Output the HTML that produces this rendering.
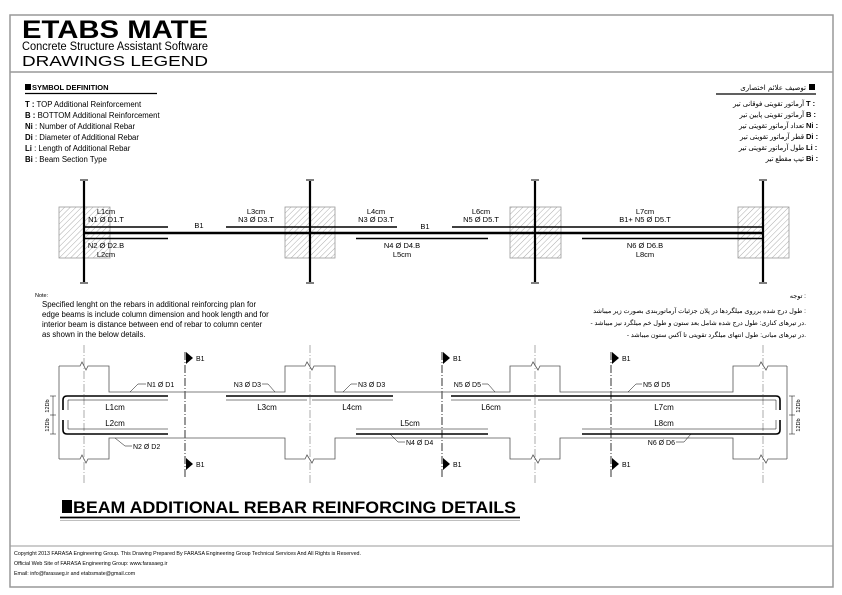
<!DOCTYPE html>
<html><head><meta charset="utf-8"><style>
html,body{margin:0;padding:0;background:#fff}
svg{display:block}
text{font-family:"Liberation Sans",Arial,sans-serif;fill:#000}
.fa{font-family:"DejaVu Sans","Liberation Sans",sans-serif}
</style></head><body>
<svg width="842" height="595" viewBox="0 0 842 595" xmlns="http://www.w3.org/2000/svg">
<defs>
<pattern id="h" width="4" height="4" patternUnits="userSpaceOnUse" patternTransform="rotate(45)">
<line x1="0" y1="0" x2="0" y2="4" stroke="#999" stroke-width="0.8"/></pattern>
</defs>
<rect x="10" y="15" width="823" height="572" fill="none" stroke="#999" stroke-width="1.5"/>
<line x1="10" y1="72" x2="833" y2="72" stroke="#999" stroke-width="1.5"/>
<line x1="10" y1="546" x2="833" y2="546" stroke="#999" stroke-width="1"/>
<text x="22" y="38" font-size="25" font-weight="bold" textLength="186" lengthAdjust="spacingAndGlyphs">ETABS MATE</text>
<text x="22" y="50" font-size="11.5" textLength="186" lengthAdjust="spacingAndGlyphs">Concrete Structure Assistant Software</text>
<text x="22" y="66" font-size="14.5" textLength="186" lengthAdjust="spacingAndGlyphs">DRAWINGS LEGEND</text>
<rect x="25" y="84" width="6" height="6" fill="#000"/>
<text x="32" y="90" font-size="7.5" font-weight="bold">SYMBOL  DEFINITION</text>
<line x1="25" y1="93.5" x2="157" y2="93.5" stroke="#000" stroke-width="1.2"/>
<g font-size="7.8">
<text x="25" y="107"><tspan font-weight="bold">T  :</tspan> TOP Additional Reinforcement</text>
<text x="25" y="118"><tspan font-weight="bold">B  :</tspan> BOTTOM Additional Reinforcement</text>
<text x="25" y="129"><tspan font-weight="bold">Ni</tspan> : Number of Additional Rebar</text>
<text x="25" y="140"><tspan font-weight="bold">Di</tspan> : Diameter of Additional Rebar</text>
<text x="25" y="151"><tspan font-weight="bold">Li</tspan> : Length of Additional Rebar</text>
<text x="25" y="162"><tspan font-weight="bold">Bi</tspan> : Beam Section Type</text>
</g>
<rect x="809" y="84" width="6" height="6" fill="#000"/>
<text x="806" y="90" font-size="7" text-anchor="end" class="fa">توصیف علائم اختصاری</text>
<line x1="716" y1="94" x2="816" y2="94" stroke="#000" stroke-width="1.2"/>
<g font-size="6.8" class="fa" text-anchor="end">
<text x="804" y="106">آرماتور تقویتی فوقانی تیر</text>
<text x="804" y="117">آرماتور تقویتی پایین تیر</text>
<text x="804" y="128">تعداد آرماتور تقویتی تیر</text>
<text x="804" y="139">قطر آرماتور تقویتی تیر</text>
<text x="804" y="150">طول آرماتور تقویتی تیر</text>
<text x="804" y="161">تیپ مقطع تیر</text>
</g>
<g font-size="7.5" font-weight="bold">
<text x="806" y="106">T :</text><text x="806" y="117">B :</text><text x="806" y="128">Ni :</text>
<text x="806" y="139">Di :</text><text x="806" y="150">Li :</text><text x="806" y="161">Bi :</text>
</g>
<g stroke="#999" stroke-width="0.8" fill="url(#h)">
<rect x="59" y="207" width="51" height="51"/>
<rect x="285" y="207" width="50" height="51"/>
<rect x="510" y="207" width="51" height="51"/>
<rect x="738" y="207" width="51" height="51"/>
</g>
<g stroke="#000" stroke-width="2.2">
<line x1="84" y1="181" x2="84" y2="282"/>
<line x1="310" y1="181" x2="310" y2="282"/>
<line x1="535" y1="181" x2="535" y2="282"/>
<line x1="763" y1="181" x2="763" y2="282"/>
</g>
<g stroke="#000" stroke-width="1">
<line x1="80" y1="180" x2="88" y2="180"/><line x1="306" y1="180" x2="314" y2="180"/>
<line x1="531" y1="180" x2="539" y2="180"/><line x1="759" y1="180" x2="767" y2="180"/>
<line x1="80" y1="283" x2="88" y2="283"/><line x1="306" y1="283" x2="314" y2="283"/>
<line x1="531" y1="283" x2="539" y2="283"/><line x1="759" y1="283" x2="767" y2="283"/>
</g>
<line x1="84" y1="233" x2="763" y2="233" stroke="#000" stroke-width="2.4"/>
<g stroke="#000" stroke-width="1.6">
<line x1="84" y1="227" x2="168" y2="227"/>
<line x1="226" y1="227" x2="397" y2="227"/>
<line x1="452" y1="227" x2="763" y2="227"/>
<line x1="84" y1="238.5" x2="168" y2="238.5"/>
<line x1="356" y1="238.5" x2="488" y2="238.5"/>
<line x1="582" y1="238.5" x2="763" y2="238.5"/>
</g>
<g font-size="7.5" text-anchor="middle">
<text x="106" y="214">L1cm</text><text x="106" y="222">N1 Ø D1.T</text>
<text x="199" y="228">B1</text>
<text x="256" y="214">L3cm</text><text x="256" y="222">N3 Ø D3.T</text>
<text x="376" y="214">L4cm</text><text x="376" y="222">N3 Ø D3.T</text>
<text x="425" y="229">B1</text>
<text x="481" y="214">L6cm</text><text x="481" y="222">N5 Ø D5.T</text>
<text x="645" y="214">L7cm</text><text x="645" y="222">B1+ N5 Ø D5.T</text>
<text x="106" y="248">N2 Ø D2.B</text><text x="106" y="257">L2cm</text>
<text x="402" y="248">N4 Ø D4.B</text><text x="402" y="257">L5cm</text>
<text x="645" y="248">N6 Ø D6.B</text><text x="645" y="257">L8cm</text>
</g>
<text x="35" y="297" font-size="5.5">Note:</text>
<g font-size="7.8">
<text x="42" y="307">Specified lenght on the rebars in additional reinforcing plan for</text>
<text x="42" y="317">edge beams is include column dimension and hook length and for</text>
<text x="42" y="327">interior beam is distance between end of rebar to column center</text>
<text x="42" y="337">as shown in the below details.</text>
</g>
<g font-size="6.5" class="fa" text-anchor="end">
<text x="806" y="298">توجه :</text>
<text x="806" y="313">طول درج شده برروی میلگردها در پلان جزئیات آرماتوربندی بصورت زیر میباشد :</text>
<text x="806" y="325">- در تیرهای کناری: طول درج شده شامل بعد ستون و طول خم میلگرد نیز میباشد.</text>
<text x="806" y="337">- در تیرهای میانی: طول انتهای میلگرد تقویتی تا آکس ستون میباشد.</text>
</g>
<g stroke="#888" stroke-width="0.7" stroke-dasharray="8,2,1,2" fill="none">
<line x1="84" y1="345" x2="84" y2="485"/><line x1="310" y1="345" x2="310" y2="485"/>
<line x1="535" y1="345" x2="535" y2="485"/><line x1="763" y1="345" x2="763" y2="485"/>
</g>
<g stroke="#000" stroke-width="0.8" stroke-dasharray="8,2,1,2" fill="none">
<line x1="185" y1="352" x2="185" y2="478"/><line x1="442" y1="352" x2="442" y2="478"/><line x1="611" y1="352" x2="611" y2="478"/>
</g>
<g fill="#000">
<polygon points="186,352 193,358 186,364"/><polygon points="186,458 193,464 186,470"/>
<polygon points="443,352 450,358 443,364"/><polygon points="443,458 450,464 443,470"/>
<polygon points="612,352 619,358 612,364"/><polygon points="612,458 619,464 612,470"/>
</g>
<g font-size="7"><text x="196" y="361">B1</text><text x="196" y="467">B1</text>
<text x="453" y="361">B1</text><text x="453" y="467">B1</text><text x="622" y="361">B1</text><text x="622" y="467">B1</text></g>
<g stroke="#555" stroke-width="0.8" fill="none">
<polyline points="59,366 80,366 82,362 86,370 88,366 109,366 109,392 285,392 285,366 305,366 307,362 312,370 314,366 335,366 335,392 510,392 510,366 531,366 533,362 538,370 540,366 560,366 560,392 733,392 733,366 759,366 761,362 766,370 768,366 787,366"/>
<polyline points="59,459 80,459 82,455 86,463 88,459 109,459 109,438 285,438 285,459 305,459 307,455 312,463 314,459 335,459 335,438 510,438 510,459 531,459 533,455 538,463 540,459 560,459 560,438 733,438 733,459 759,459 761,455 766,463 768,459 787,459"/>
<line x1="59" y1="366" x2="59" y2="459"/><line x1="787" y1="366" x2="787" y2="459"/>
</g>
<g stroke="#000" stroke-width="1.6" fill="none">
<path d="M168,396 H67 Q63,396 63,400 V410"/>
<path d="M168,434 H67 Q63,434 63,430 V420"/>
<line x1="226" y1="396" x2="393" y2="396"/>
<line x1="356" y1="434" x2="488" y2="434"/>
<path d="M451,396 H776 Q780,396 780,400 V410"/>
<path d="M582,434 H776 Q780,434 780,430 V420"/>
</g>
<g stroke="#000" stroke-width="0.5" fill="none">
<polyline points="68,410 68,400 168,400"/><polyline points="68,420 68,429 168,429"/>
<line x1="226" y1="400" x2="307" y2="400"/><line x1="312" y1="400" x2="393" y2="400"/>
<line x1="356" y1="429" x2="488" y2="429"/>
<line x1="451" y1="400" x2="531" y2="400"/><line x1="538" y1="400" x2="776" y2="400"/>
<polyline points="582,429 776,429 776,420"/><line x1="776" y1="400" x2="776" y2="410"/>
<line x1="53" y1="396" x2="53" y2="434"/><line x1="792" y1="396" x2="792" y2="434"/>
<line x1="50" y1="396" x2="56" y2="396"/><line x1="50" y1="415" x2="56" y2="415"/><line x1="50" y1="434" x2="56" y2="434"/>
<line x1="789" y1="396" x2="795" y2="396"/><line x1="789" y1="415" x2="795" y2="415"/><line x1="789" y1="434" x2="795" y2="434"/>
<polyline points="130,392 138,384 146,384"/><polyline points="115,438 125,446 132,446"/>
<polyline points="275,392 268,384 262,384"/><polyline points="343,392 351,384 357,384"/>
<polyline points="390,434 398,442 405,442"/><polyline points="495,392 488,384 482,384"/>
<polyline points="628,392 636,384 642,384"/><polyline points="691,434 684,442 676,442"/>
</g>
<g font-size="7">
<text x="147" y="387">N1 Ø D1</text><text x="133" y="449">N2 Ø D2</text>
<text x="261" y="387" text-anchor="end">N3 Ø D3</text><text x="358" y="387">N3 Ø D3</text>
<text x="406" y="445">N4 Ø D4</text><text x="481" y="387" text-anchor="end">N5 Ø D5</text>
<text x="643" y="387">N5 Ø D5</text><text x="675" y="445" text-anchor="end">N6 Ø D6</text>
</g>
<g font-size="8" text-anchor="middle">
<text x="115" y="410">L1cm</text><text x="115" y="426">L2cm</text>
<text x="267" y="410">L3cm</text><text x="352" y="410">L4cm</text>
<text x="410" y="426">L5cm</text><text x="491" y="410">L6cm</text>
<text x="664" y="410">L7cm</text><text x="664" y="426">L8cm</text>
</g>
<g font-size="5.5" text-anchor="middle">
<text transform="translate(49,406) rotate(-90)">12Db</text><text transform="translate(49,425) rotate(-90)">12Db</text>
<text transform="translate(800,406) rotate(-90)">12Db</text><text transform="translate(800,425) rotate(-90)">12Db</text>
</g>
<rect x="62" y="500" width="10" height="13" fill="#000"/>
<text x="73" y="513" font-size="16.5" font-weight="bold" textLength="443" lengthAdjust="spacingAndGlyphs">BEAM  ADDITIONAL  REBAR  REINFORCING  DETAILS</text>
<line x1="60" y1="517.5" x2="520" y2="517.5" stroke="#000" stroke-width="1.8"/>
<line x1="60" y1="520.5" x2="520" y2="520.5" stroke="#aaa" stroke-width="0.8"/>
<g font-size="5.3">
<text x="14" y="555">Copyright 2013 FARASA Engineering Group. This Drawing Prepared By FARASA Engineering Group Technical Services And All Rights is Reserved.</text>
<text x="14" y="565">Official Web Site of FARASA Engineering Group: www.farasaeg.ir</text>
<text x="14" y="575">Email: info@farasaeg.ir  and  etabsmate@gmail.com</text>
</g>
</svg>
</body></html>
